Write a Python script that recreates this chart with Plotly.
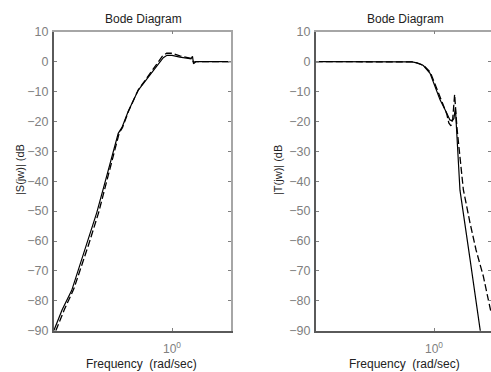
import plotly.graph_objects as go

# ---- data (frequency in rad/sec, magnitude in dB) ----
s_freq_solid = [0.158, 0.180, 0.209, 0.238, 0.265, 0.309, 0.351, 0.400, 0.432, 0.458,
                0.506, 0.591, 0.657, 0.710, 0.788, 0.873, 0.925, 1.0, 1.132, 1.283,
                1.345, 1.377, 1.399, 1.455, 2.512]
s_db_solid = [-90, -83, -76.5, -68, -61, -50.5, -40.5, -30, -24, -22,
              -16.5, -9.5, -6.5, -4.5, -1.5, 1.3, 2.1, 2.1, 1.5, 1.0,
              0.9, 1.8, -0.7, 0, 0]

s_freq_dash = [0.163, 0.186, 0.216, 0.245, 0.273, 0.318, 0.360, 0.408, 0.438, 0.462,
               0.508, 0.590, 0.652, 0.703, 0.780, 0.860, 0.920, 1.0, 1.13, 1.28,
               1.345, 1.38, 1.40, 1.455, 2.512]
s_db_dash = [-90, -83, -76, -68, -61, -50.5, -40.5, -30, -24, -22,
             -16.5, -9.5, -6.5, -4, -1, 1.8, 2.8, 2.8, 1.9, 1.3,
             1.1, 0.4, -0.2, 0, 0]

t_freq_solid = [0.158, 0.589, 0.710, 0.764, 0.847, 0.940, 1.016, 1.099, 1.219, 1.282,
                1.330, 1.365, 1.396, 1.442, 1.500, 1.754, 2.051, 2.115]
t_db_solid = [0, 0, -0.1, -0.4, -1.3, -3.9, -8.3, -12.8, -17.2, -19.5,
              -19.8, -19, -15.5, -28, -43, -66, -89.7, -94]

t_freq_dash = [0.158, 0.589, 0.710, 0.764, 0.847, 0.945, 1.022, 1.106, 1.220, 1.260,
               1.303, 1.340, 1.380, 1.430, 1.542, 1.581, 1.754, 1.928, 2.158, 2.422, 2.6]
t_db_dash = [0, 0, -0.1, -0.4, -1.2, -3.6, -8, -12.5, -17.5, -20.5,
             -21.5, -19, -11, -22, -39.4, -42.8, -53.9, -63, -71.7, -83.3, -88]

y_ticks = [10, 0, -10, -20, -30, -40, -50, -60, -70, -80, -90]
x_tickvals = [1]
x_ticktext = ["10<sup>0</sup>"]
titles = ["Bode Diagram", "Bode Diagram"]
ylabels = ["|S(jw)| (dB", "|T(jw)| (dB"]
xlabel = "Frequency  (rad/sec)"

W, H = 491, 372
FONT = "Arial, Liberation Sans, sans-serif"
TICKC = "#808080"
DARK = "#5a5a5a"
LIGHT = "#a6a6a6"

fig = go.Figure()

def add_pair(fs, ds, fd, dd, xa, ya):
    fig.add_trace(go.Scatter(x=fd, y=dd, mode="lines", xaxis=xa, yaxis=ya,
                             line=dict(color="black", width=1.3, dash="7px,3px"),
                             showlegend=False))
    fig.add_trace(go.Scatter(x=fs, y=ds, mode="lines", xaxis=xa, yaxis=ya,
                             line=dict(color="black", width=1.2),
                             showlegend=False))

add_pair(s_freq_solid, s_db_solid, s_freq_dash, s_db_dash, "x", "y")
add_pair(t_freq_solid, t_db_solid, t_freq_dash, t_db_dash, "x2", "y2")
# empty traces to register the overlay (frame) axes
fig.add_trace(go.Scatter(x=[], y=[], xaxis="x3", yaxis="y3", showlegend=False))
fig.add_trace(go.Scatter(x=[], y=[], xaxis="x4", yaxis="y4", showlegend=False))

ydom = [1 - 330.7 / H, 1 - 31.7 / H]
dom1 = [54 / W, 231 / W]
dom2 = [316 / W, 1.0]
xr1 = [-0.8, 0.4]
xr2 = [-0.8, -0.8 + 175 * 1.2 / 177]

def xmain(dom, rng, anchor):
    return dict(domain=dom, type="log", range=rng, tickvals=x_tickvals, ticktext=x_ticktext,
                ticks="inside", ticklen=3, tickcolor=TICKC, showline=True, linecolor=DARK,
                linewidth=2, showgrid=False, zeroline=False, anchor=anchor, automargin=False,
                tickfont=dict(family=FONT, size=12, color=TICKC), ticklabelstandoff=6)

def ymain(anchor):
    return dict(domain=ydom, range=[-90, 10], tickvals=y_ticks, ticks="inside", ticklen=3,
                tickcolor=TICKC, showline=True, linecolor=DARK, linewidth=2, showgrid=False,
                zeroline=False, anchor=anchor, automargin=False,
                tickfont=dict(family=FONT, size=12.5, color=TICKC), ticklabelstandoff=1)

def xtop(dom, rng, over, anchor):
    return dict(domain=dom, type="log", range=rng, overlaying=over, side="top", anchor=anchor,
                tickvals=x_tickvals, ticks="inside", ticklen=3, tickcolor=TICKC,
                showticklabels=False, showline=True, linecolor=LIGHT, linewidth=1.5,
                showgrid=False, zeroline=False, automargin=False)

def yright(over, anchor, line=True):
    return dict(domain=ydom, range=[-90, 10], overlaying=over, side="right", anchor=anchor,
                tickvals=y_ticks, ticks="inside", ticklen=3, tickcolor=TICKC,
                showticklabels=False, showline=line, linecolor=LIGHT, linewidth=1.5,
                showgrid=False, zeroline=False, automargin=False)

fig.update_layout(
    width=W, height=H, margin=dict(l=0, r=0, t=0, b=0, autoexpand=False),
    paper_bgcolor="white", plot_bgcolor="white",
    xaxis=xmain(dom1, xr1, "y"), yaxis=ymain("x"),
    xaxis2=xmain(dom2, xr2, "y2"), yaxis2=ymain("x2"),
    xaxis3=xtop(dom1, xr1, "x", "y3"), yaxis3=yright("y", "x3"),
    xaxis4=xtop(dom2, xr2, "x2", "y4"), yaxis4=yright("y2", "x4", line=False),
)

ann = []
for cx, t in zip([143, 405], titles):
    ann.append(dict(text=t, x=cx / W, y=1 - 19 / H, xref="paper", yref="paper",
                    showarrow=False, xanchor="center", yanchor="middle",
                    font=dict(family=FONT, size=12, color="#222")))
for cx in [141, 404]:
    ann.append(dict(text=xlabel, x=cx / W, y=1 - 364 / H, xref="paper", yref="paper",
                    showarrow=False, xanchor="center", yanchor="middle",
                    font=dict(family=FONT, size=12, color="#222")))
for cx, t in zip([20, 278], ylabels):
    ann.append(dict(text=t, x=cx / W, y=1 - 170 / H, xref="paper", yref="paper",
                    showarrow=False, xanchor="center", yanchor="middle", textangle=-90,
                    font=dict(family=FONT, size=11, color="#222")))
fig.update_layout(annotations=ann)

fig.write_html("out.html", config={"displayModeBar": False},
               post_script="document.body.style.margin='0';document.body.style.overflow='hidden';")
